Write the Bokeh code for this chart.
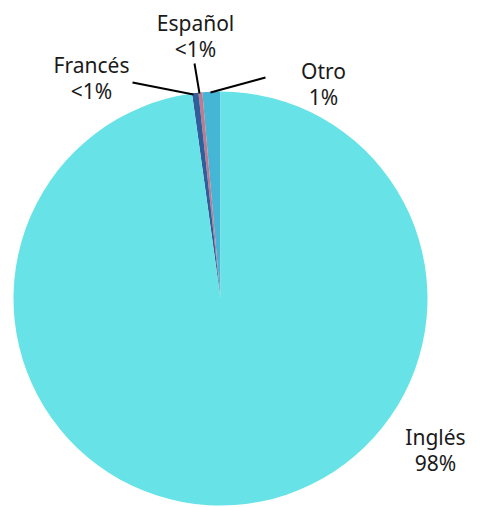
import math
from bokeh.plotting import figure
from bokeh.models import Range1d, ColumnDataSource
from bokeh.core.properties import value
from bokeh.embed import file_html
from bokeh.resources import INLINE

# Data (counter-clockwise from 12 o'clock)
languages = ["Otro", "Español", "Francés", "Inglés"]
shares = [1.4, 0.3, 0.5, 97.8]
share_labels = ["1%", "<1%", "<1%", "98%"]
colors = ["#45b6d6", "#c07a8e", "#2f5e9a", "#67e3e8"]

W, H = 480, 507
p = figure(width=W, height=H, output_backend="svg", toolbar_location=None,
           x_range=Range1d(0, W), y_range=Range1d(0, H), min_border=0)
p.axis.visible = False
p.grid.visible = False
p.outline_line_color = None
p.background_fill_color = "white"

cx, cy, r = 220, 209, 207
total = sum(shares)
starts, ends = [], []
a = math.pi / 2
for s in shares:
    starts.append(a)
    a += 2 * math.pi * s / total
    ends.append(a)

src = ColumnDataSource(dict(start=starts, end=ends, color=colors))
p.wedge(x=cx, y=cy, radius=r, start_angle="start", end_angle="end",
        fill_color="color", line_color=None, source=src)

# leader lines (layout): Francés, Español, Otro
lx0 = [193, 199, 210]
ly0 = [413, 414, 415]
lx1 = [132, 194, 265]
ly1 = [425, 444, 430]
p.segment(x0=lx0, y0=ly0, x1=lx1, y1=ly1, line_color="black", line_width=2)

# label positions (layout): Otro, Español, Francés, Inglés
label_x = [323, 195, 91, 435]
label_y = [437, 485, 443, 71]
gap = 26
tx, ty, tt = [], [], []
for name, lab, x, y in zip(languages, share_labels, label_x, label_y):
    tx += [x, x]
    ty += [y, y - gap]
    tt += [name, lab]
p.text(x=tx, y=ty, text=tt, text_align="center", text_baseline="middle",
       text_font=value("Noto Sans"), text_font_size="21px", text_color="#1a1a1a")

open("out.html", "w").write(file_html(p, INLINE))
